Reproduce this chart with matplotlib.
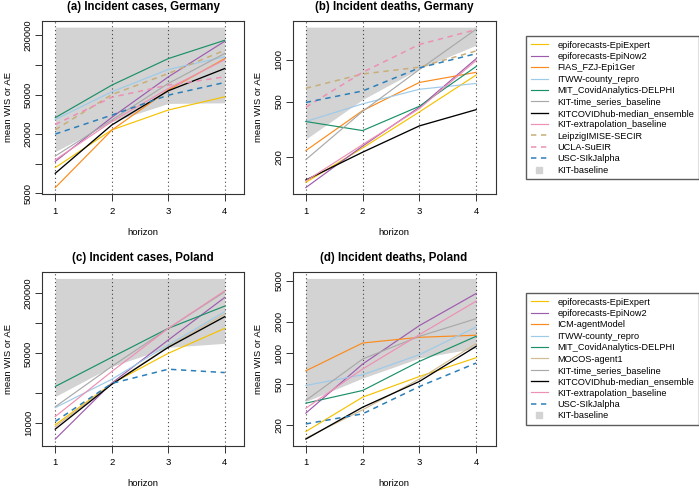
import numpy as np
import matplotlib
matplotlib.use("Agg")
import matplotlib.pyplot as plt
from matplotlib.lines import Line2D
from matplotlib.ticker import FixedLocator, FixedFormatter, NullLocator

plt.rcParams['font.family'] = ['Liberation Sans', 'DejaVu Sans']

horizons = [1, 2, 3, 4]

# models shown for Germany / Poland (legend order)
models_de = ["epiforecasts-EpiExpert", "epiforecasts-EpiNow2", "FIAS_FZJ-Epi1Ger",
             "ITWW-county_repro", "MIT_CovidAnalytics-DELPHI", "KIT-time_series_baseline",
             "KITCOVIDhub-median_ensemble", "KIT-extrapolation_baseline",
             "LeipzigIMISE-SECIR", "UCLA-SuEIR", "USC-SIkJalpha"]
models_pl = ["epiforecasts-EpiExpert", "epiforecasts-EpiNow2", "ICM-agentModel",
             "ITWW-county_repro", "MIT_CovidAnalytics-DELPHI", "MOCOS-agent1",
             "KIT-time_series_baseline", "KITCOVIDhub-median_ensemble",
             "KIT-extrapolation_baseline", "USC-SIkJalpha"]

# mean WIS / AE per horizon, same order as models_de
de_cases = [
    [9100, 21900, 34900, 47500],
    [10500, 29400, 75700, 174000],
    [5700, 21800, 55600, 116000],
    [28000, 53400, 90000, 121000],
    [29200, 62400, 116000, 178000],
    [11900, 27600, 64900, 131000],
    [7960, 24600, 54700, 92000],
    [10900, 26600, 57700, 113000],
    [22000, 50000, 81900, 141000],
    [24900, 47000, 62400, 75700],
    [19900, 31000, 49400, 66400],
]
de_deaths = [
    [132, 233, 422, 776],
    [121, 240, 456, 1016],
    [223, 431, 686, 811],
    [360, 482, 613, 675],
    [360, 310, 463, 893],
    [192, 426, 850, 1653],
    [137, 217, 335, 438],
    [135, 246, 446, 987],
    [623, 789, 883, 1155],
    [456, 811, 1285, 1640],
    [493, 596, 873, 1104],
]
# same order as models_pl (None = no submission)
pl_cases = [
    [9620, 24900, 50100, 89100],
    [6920, 25200, 68100, 182000],
    None,
    [14300, 27500, 60700, 131000],
    [23300, 45700, 89100, 149000],
    [9200, 24700, 58500, 124000],
    [14600, 37000, 89000, 207000],
    [8710, 24500, 57500, 116700],
    [11650, 32900, 89100, 212000],
    [10400, 25000, 34700, 32100],
]
pl_deaths = [
    [174, 374, 593, 901],
    [262, 782, 1843, 3770],
    [673, 1250, 1420, 1486],
    [485, 616, 964, 1787],
    [327, 434, 830, 1452],
    [150, 282, 560, 1233],
    [348, 875, 1452, 2150],
    [147, 299, 531, 1161],
    [292, 700, 1507, 3180],
    [206, 258, 474, 800],
]

# KIT-baseline shaded region (lower / upper edge)
de_cases_band_lo = [13200, 26500, 40700, 41300]
de_cases_band_hi = [242000, 242000, 242000, 242000]
de_deaths_band_lo = [269, 518, 859, 1270]
de_deaths_band_hi = [1710, 1710, 1710, 1710]
pl_cases_band_lo = [18500, 36900, 57500, 63100]
pl_cases_band_hi = [282000, 282000, 282000, 282000]
pl_deaths_band_lo = [340, 572, 894, 1119]
pl_deaths_band_hi = [5270, 5270, 5270, 5270]

de_cases_ticks = [5000, 10000, 20000, 50000, 100000, 200000]
de_cases_ticklabels = ["5000", "", "20000", "50000", "", "200000"]
de_deaths_ticks = [200, 500, 1000]
de_deaths_ticklabels = ["200", "500", "1000"]
pl_cases_ticks = [10000, 20000, 50000, 100000, 200000]
pl_cases_ticklabels = ["10000", "", "50000", "", "200000"]
pl_deaths_ticks = [200, 500, 1000, 2000, 5000]
pl_deaths_ticklabels = ["200", "500", "1000", "2000", "5000"]

BAND = "#d3d3d3"
styles = {
    "epiforecasts-EpiExpert": dict(color="#f5c200", lw=0.85),
    "epiforecasts-EpiNow2": dict(color="#9e5bae", lw=0.85),
    "FIAS_FZJ-Epi1Ger": dict(color="#fb8b1c", lw=0.85),
    "ICM-agentModel": dict(color="#fb8b1c", lw=0.85),
    "ITWW-county_repro": dict(color="#9ecae9", lw=0.85),
    "MIT_CovidAnalytics-DELPHI": dict(color="#1b9068", lw=0.85),
    "MOCOS-agent1": dict(color="#d2bc92", lw=0.85),
    "KIT-time_series_baseline": dict(color="#a9a9a9", lw=0.85),
    "KITCOVIDhub-median_ensemble": dict(color="black", lw=0.95),
    "KIT-extrapolation_baseline": dict(color="#ee8fb5", lw=0.85),
    "LeipzigIMISE-SECIR": dict(color="#c8ae78", lw=1.1, dashes=(3.5, 3)),
    "UCLA-SuEIR": dict(color="#ee8fb5", lw=1.1, dashes=(3.5, 3)),
    "USC-SIkJalpha": dict(color="#2c7fb8", lw=1.1, dashes=(3.5, 3)),
}

W, H = 699, 488
fig = plt.figure(figsize=(W / 100, H / 100), dpi=100)


def px_axes(left, top, right, bottom):
    return fig.add_axes([left / W, 1 - bottom / H, (right - left) / W, (bottom - top) / H])


def draw_panel(ax, title, models, values, band_lo, band_hi, ticks, ticklabels):
    ax.fill_between(horizons, band_lo, band_hi, color=BAND, lw=0, zorder=1)
    for h in horizons:
        ax.axvline(h, color="#444444", lw=0.8, dashes=(1, 2.5), zorder=2)
    for name, v in zip(models, values):
        if v is None:
            continue
        ax.plot(horizons, v, zorder=3, **styles[name])
    ax.set_yscale("log")
    # R-style 4% padding of the data range
    allv = [x for v in values if v for x in v] + band_lo + band_hi
    lo, hi = np.log10(min(allv)), np.log10(max(allv))
    pad = 0.04 * (hi - lo)
    ax.set_ylim(10 ** (lo - pad), 10 ** (hi + pad))
    ax.set_xlim(0.765, 4.34)
    ax.yaxis.set_major_locator(FixedLocator(ticks))
    ax.yaxis.set_major_formatter(FixedFormatter(ticklabels))
    ax.yaxis.set_minor_locator(NullLocator())
    ax.set_xticks(horizons)
    ax.set_xticklabels([str(h) for h in horizons])
    ax.tick_params(axis="y", labelrotation=90, length=5, width=0.7, pad=1.5,
                   labelsize=6.8, color="#333333")
    ax.tick_params(axis="x", length=5, width=0.7, pad=4, labelsize=6.8, color="#333333")
    for lbl in ax.get_yticklabels():
        lbl.set_va("center")
    for s in ax.spines.values():
        s.set_color("#333333")
        s.set_linewidth(0.8)
    ax.set_title(title, fontsize=8.3, fontweight="bold", pad=8)
    ax.set_xlabel("horizon", fontsize=6.8, labelpad=9)
    ax.set_ylabel("mean WIS or AE", fontsize=6.8, labelpad=8)


ax_a = px_axes(42, 20.7, 244, 194)
ax_b = px_axes(292.5, 20.7, 495.5, 194)
ax_c = px_axes(42, 272, 244, 445.5)
ax_d = px_axes(292.5, 272, 495.5, 445.5)

draw_panel(ax_a, "(a) Incident cases, Germany", models_de, de_cases,
           de_cases_band_lo, de_cases_band_hi, de_cases_ticks, de_cases_ticklabels)
draw_panel(ax_b, "(b) Incident deaths, Germany", models_de, de_deaths,
           de_deaths_band_lo, de_deaths_band_hi, de_deaths_ticks, de_deaths_ticklabels)
draw_panel(ax_c, "(c) Incident cases, Poland", models_pl, pl_cases,
           pl_cases_band_lo, pl_cases_band_hi, pl_cases_ticks, pl_cases_ticklabels)
draw_panel(ax_d, "(d) Incident deaths, Poland", models_pl, pl_deaths,
           pl_deaths_band_lo, pl_deaths_band_hi, pl_deaths_ticks, pl_deaths_ticklabels)


def add_legend(models, top):
    handles = [Line2D([], [], **styles[m]) for m in models]
    handles.append(Line2D([], [], ls="none", marker="s", ms=4, color=BAND))
    labels = list(models) + ["KIT-baseline"]
    fig.legend(handles, labels, loc="upper left", bbox_to_anchor=(526 / W, 1 - top / H),
               fontsize=6.6, frameon=True, fancybox=False, edgecolor="#333333",
               handlelength=1.9, handletextpad=1.0, labelspacing=0.26,
               borderpad=0.5, borderaxespad=0)


add_legend(models_de, 36)
add_legend(models_pl, 293)

fig.savefig("out.png", dpi=100)
